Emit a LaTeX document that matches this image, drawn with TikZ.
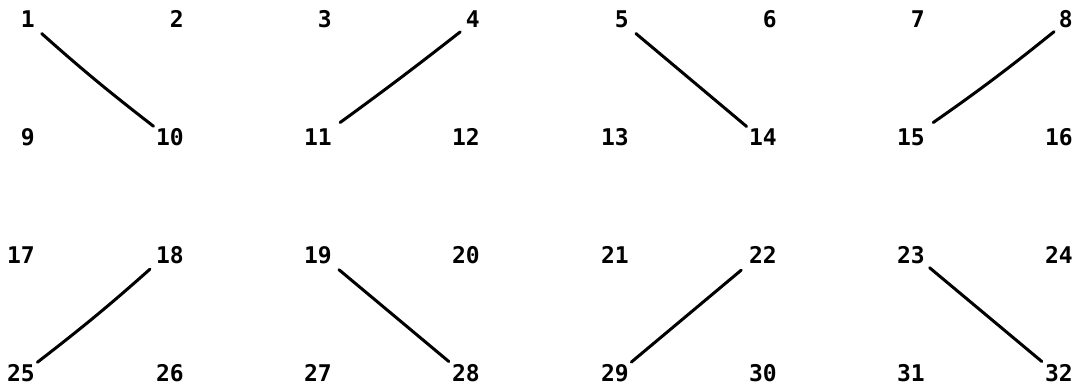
\documentclass[tikz,border=0pt]{standalone}
\usepackage{fontspec}
\usepackage{tikz}
\usetikzlibrary{positioning,calc}
\newfontfamily\gridfont{DejaVu Sans Mono}

\begin{document}
\begin{tikzpicture}[
  x=1pt,y=-1pt,
  num/.style={anchor=east,inner sep=0pt,font=\gridfont\bfseries\fontsize{23}{23}\selectfont},
  stroke/.style={line width=3pt,line cap=round,line join=round,draw=black}
]
  \useasboundingbox[fill=white] (0,0) rectangle (1077,385);
  % row one
  \node[num] (n1) at (35,19) {1};
  \node[num] (n2) at (184,19) {2};
  \node[num] (n3) at (332,19) {3};
  \node[num] (n4) at (480,19) {4};
  \node[num] (n5) at (629,19) {5};
  \node[num] (n6) at (777,19) {6};
  \node[num] (n7) at (925,19) {7};
  \node[num] (n8) at (1073,19) {8};
  % row two
  \node[num] (n9) at (35,137) {9};
  \node[num] (n10) at (184,137) {10};
  \node[num] (n11) at (332,137) {11};
  \node[num] (n12) at (480,137) {12};
  \node[num] (n13) at (629,137) {13};
  \node[num] (n14) at (777,137) {14};
  \node[num] (n15) at (925,137) {15};
  \node[num] (n16) at (1073,137) {16};
  % row three
  \node[num] (n17) at (35,255) {17};
  \node[num] (n18) at (184,255) {18};
  \node[num] (n19) at (332,255) {19};
  \node[num] (n20) at (480,255) {20};
  \node[num] (n21) at (629,255) {21};
  \node[num] (n22) at (777,255) {22};
  \node[num] (n23) at (925,255) {23};
  \node[num] (n24) at (1073,255) {24};
  % row four
  \node[num] (n25) at (35,373) {25};
  \node[num] (n26) at (184,373) {26};
  \node[num] (n27) at (332,373) {27};
  \node[num] (n28) at (480,373) {28};
  \node[num] (n29) at (629,373) {29};
  \node[num] (n30) at (777,373) {30};
  \node[num] (n31) at (925,373) {31};
  \node[num] (n32) at (1073,373) {32};
  % pencil strokes
  \draw[stroke,shorten <=9pt,shorten >=3pt] (n1.south east) to[bend right=2] (n10.north west);
  \draw[stroke,shorten <=7pt,shorten >=10pt] (n4.south west) to[bend left=1] (n11.north east);
  \draw[stroke,shorten <=9pt,shorten >=3pt] (n5.south east) -- (n14.north west);
  \draw[stroke,shorten <=6pt,shorten >=10pt] (n8.south west) to[bend left=2] (n15.north east);
  \draw[stroke,shorten <=8pt,shorten >=3pt] (n18.south west) to[bend left=2] (n25.north east);
  \draw[stroke,shorten <=9pt,shorten >=4pt] (n19.south east) -- (n28.north west);
  \draw[stroke,shorten <=10pt,shorten >=3pt] (n22.south west) -- (n29.north east);
  \draw[stroke,shorten <=6pt,shorten >=4pt] (n23.south east) -- (n32.north west);
\end{tikzpicture}
\end{document}
